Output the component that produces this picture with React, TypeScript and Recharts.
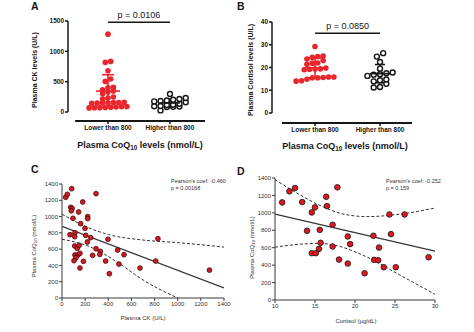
import React from 'react'
import { ComposedChart, Scatter, Line, XAxis, YAxis, ReferenceLine, ErrorBar } from 'recharts'

const FONT = '"Liberation Sans", Arial, Helvetica, sans-serif'
const RED = '#e8262c'
const INK = '#161616'
const AX = '#3a3a3a'

const groups = ['Lower than 800', 'Higher than 800']

// A: plasma CK (U/L) by CoQ10 group
const ckLow = [1283, 834, 818, 681, 543, 505, 406, 401, 368, 346, 330, 300, 247, 231, 215, 160, 158, 155, 152, 150, 147, 143, 90, 86, 82, 78, 75, 72, 70, 68]
const ckHigh = [296, 231, 214, 203, 190, 181, 175, 160, 137, 120, 115, 100, 95, 90, 85, 82, 27]
const ckMean = [345, 150]
const ckSd = [270, 60]

// B: plasma cortisol by CoQ10 group
const cortLow = [29.2, 25.0, 24.8, 24.5, 23.7, 23.1, 22.0, 21.9, 21.4, 19.8, 19.4, 19.3, 19.2, 19.0, 15.8, 15.8, 15.6, 15.5, 15.5, 14.8, 14.2, 14.0]
const cortHigh = [26.3, 24.8, 22.4, 19.5, 17.8, 17.5, 17.0, 16.8, 16.3, 14.7, 14.4, 13.9, 12.8, 11.4, 11.2]
const cortMean = [19.8, 17.3]
const cortSd = [4.4, 4.0]

// C: CK vs CoQ10
const ckCoq = [
  [32, 1237], [46, 1273], [84, 1342], [75, 1114], [88, 1100], [80, 1070], [144, 1056], [95, 979],
  [179, 1179], [294, 1281], [222, 999], [222, 975], [161, 913], [199, 856], [69, 777], [112, 802],
  [110, 753], [205, 770], [248, 741], [219, 688], [397, 721], [829, 728], [110, 639], [132, 610],
  [149, 647], [294, 605], [331, 573], [327, 535], [112, 528], [138, 528], [121, 495], [104, 458],
  [155, 549], [265, 524], [481, 589], [536, 532], [377, 454], [492, 417], [185, 450], [155, 368],
  [409, 298], [674, 368], [810, 454], [1274, 342],
]
const ckFit = [[0, 880], [1400, 125]]
const ckUpper = [[0, 1030], [200, 880], [400, 780], [700, 712], [1000, 680], [1400, 625]]
const ckLower = [[0, 722], [240, 630], [530, 390], [675, 245], [1000, 0]]

// D: cortisol vs CoQ10
const cortCoq = [
  [10.9, 1120], [11.8, 1247], [12.5, 1285], [13.4, 1124], [14.0, 794], [14.6, 1005], [15.0, 1063],
  [14.6, 537], [15.1, 537], [15.5, 587], [15.6, 805], [15.7, 656], [16.4, 1185], [16.5, 1078],
  [17.2, 863], [17.2, 614], [17.8, 1293], [18.0, 464], [19.1, 729], [19.1, 418], [19.4, 641],
  [21.2, 307], [22.3, 737], [22.4, 460], [22.9, 456], [23.0, 602], [23.6, 376], [24.3, 982],
  [24.5, 756], [25.1, 376], [26.2, 982], [29.2, 491],
]
const cortFit = [[10, 985], [30, 560]]
const cortUpper = [[10, 1381], [13, 1213], [15.5, 1090], [18.5, 987], [21.5, 957], [25.5, 984], [30, 1055]]
const cortLower = [[10, 606], [13, 639], [15.5, 650], [17.5, 628], [21.4, 497], [25.6, 287], [30, 65]]

const coqTicks = [0, 200, 400, 600, 800, 1000, 1200, 1400]
const ckTicks = [0, 200, 400, 600, 800, 1000, 1200, 1400]
const cortTicks = [10, 15, 20, 25, 30]

const toXY = (rows: number[][]) => rows.map(([x, y]) => ({ x, y }))

// prism-style scatter: close values share a row, rows are centred on the group
function rowLayout(values: number[], center: number, pxX: number, pxY: number, gap: number, rowPx: number) {
  const rows: number[][] = []
  for (const v of [...values].sort((a, b) => a - b)) {
    const row = rows[rows.length - 1]
    if (row && (v - row[0]) * pxY < rowPx) row.push(v)
    else rows.push([v])
  }
  return rows.flatMap((row) =>
    row.map((v, i) => ({ x: center + ((i - (row.length - 1) / 2) * gap) / pxX, y: v })),
  )
}

const Extra = ({ node }: { node: React.ReactNode }) => <g>{node}</g>

const letter = (x: number, y: number, t: string) => (
  <text x={x} y={y} fontSize={10.5} fontWeight={700} fontFamily={FONT} fill={INK}>{t}</text>
)

const vTitle = (x: number, y: number, size: number, bold: boolean, body: React.ReactNode) => (
  <text x={x} y={y} transform={`rotate(-90 ${x} ${y})`} textAnchor="middle" dominantBaseline="central"
    fontSize={size} fontWeight={bold ? 700 : 400} fontFamily={FONT} fill={bold ? INK : '#333'}>{body}</text>
)

const groupTitle = (x: number, y: number) => (
  <text x={x} y={y} textAnchor="middle" fontSize={9} fontWeight={700} fontFamily={FONT} fill={INK}>
    Plasma CoQ<tspan fontSize={6.3} dy={2}>10</tspan><tspan dy={-2}> levels (nmol/L)</tspan>
  </text>
)

const redDot = (p: any) => <circle cx={p.cx} cy={p.cy} r={2.8} fill={RED} />
const openDot = (p: any) => <circle cx={p.cx} cy={p.cy} r={2.5} fill="#fff" stroke={INK} strokeWidth={1.4} />
const meanBar = (color: string, half: number) => (p: any) =>
  <line x1={p.cx - half} x2={p.cx + half} y1={p.cy} y2={p.cy} stroke={color} strokeWidth={1.6} />

type DotPlotProps = {
  left: number
  width: number
  margin: { top: number; right: number; bottom: number; left: number }
  yWidth: number
  xDomain: [number, number]
  xLineFrom: number
  yDomain: [number, number]
  yTicks: number[]
  low: number[]
  high: number[]
  mean: number[]
  sd: number[]
  rowPx: number
  pAt: number
  pText: string
  extra: React.ReactNode
}

function DotPlot(p: DotPlotProps) {
  const H = 170
  const XH = 30
  const plotW = p.width - p.margin.left - p.yWidth - p.margin.right
  const plotH = H - p.margin.top - p.margin.bottom - XH
  const pxX = plotW / (p.xDomain[1] - p.xDomain[0])
  const pxY = plotH / (p.yDomain[1] - p.yDomain[0])
  const lowPts = rowLayout(p.low, 1, pxX, pxY, 5.4, p.rowPx)
  const highPts = rowLayout(p.high, 2, pxX, pxY, 6.3, p.rowPx)
  const tickFont = { fontSize: 6.5, fontWeight: 700, fill: INK, fontFamily: FONT }
  const yTop = p.yTicks[p.yTicks.length - 1]
  return (
    <div style={{ position: 'absolute', left: p.left, top: 0 }}>
      <ComposedChart width={p.width} height={H} margin={p.margin}>
        <XAxis type="number" dataKey="x" domain={p.xDomain} ticks={[1, 2]} interval={0}
          tickFormatter={(v) => groups[v - 1]} axisLine={false} tickSize={3} tickMargin={1} height={XH}
          tick={tickFont} tickLine={{ stroke: INK, strokeWidth: 1.5 }} allowDataOverflow />
        <YAxis type="number" dataKey="y" domain={p.yDomain} ticks={p.yTicks} interval={0} width={p.yWidth}
          axisLine={false} tickSize={3} tickMargin={1} tick={tickFont} tickLine={{ stroke: INK, strokeWidth: 1.5 }}
          allowDataOverflow label={<Extra node={p.extra} />} />
        <ReferenceLine segment={[{ x: p.xDomain[0], y: 0 }, { x: p.xDomain[0], y: yTop }]} stroke={INK} strokeWidth={1.5} />
        <ReferenceLine segment={[{ x: p.xLineFrom, y: p.yDomain[0] }, { x: p.xDomain[1], y: p.yDomain[0] }]} stroke={INK} strokeWidth={2} />
        <ReferenceLine segment={[{ x: 1, y: p.pAt }, { x: 2, y: p.pAt }]} stroke={INK} strokeWidth={1.5}
          label={{ value: p.pText, position: 'top', offset: 4, fontSize: 9, fill: INK, fontFamily: FONT }} />
        <Scatter data={lowPts} shape={redDot} isAnimationActive={false} />
        <Scatter data={highPts} shape={openDot} isAnimationActive={false} />
        <Scatter data={[{ x: 1, y: p.mean[0], sd: p.sd[0] }]} shape={meanBar(RED, 12)} isAnimationActive={false}>
          <ErrorBar dataKey="sd" direction="y" width={6} stroke={RED} strokeWidth={1.6} isAnimationActive={false} />
        </Scatter>
        <Scatter data={[{ x: 2, y: p.mean[1], sd: p.sd[1] }]} shape={meanBar(INK, 10)} isAnimationActive={false}>
          <ErrorBar dataKey="sd" direction="y" width={5} stroke={INK} strokeWidth={1.6} isAnimationActive={false} />
        </Scatter>
      </ComposedChart>
    </div>
  )
}

type CorrProps = {
  left: number
  width: number
  margin: { top: number; right: number; bottom: number; left: number }
  yWidth: number
  xDomain: [number, number]
  xTicks: number[]
  points: number[][]
  fit: number[][]
  upper: number[][]
  lower: number[][]
  dot: (p: any) => React.ReactElement
  extra: React.ReactNode
}

// panels C and D start at y=155 so the panel letter has room above the plot
function Correlation(p: CorrProps) {
  const small = { fontSize: 6, fill: '#333', fontFamily: FONT }
  return (
    <div style={{ position: 'absolute', left: p.left, top: 155 }}>
      <ComposedChart width={p.width} height={177} margin={p.margin}>
        <XAxis type="number" dataKey="x" domain={p.xDomain} ticks={p.xTicks} interval={0} tickSize={3} tickMargin={1}
          height={20} axisLine={{ stroke: AX }} tickLine={{ stroke: AX }} tick={small} allowDataOverflow />
        <YAxis type="number" dataKey="y" domain={[0, 1400]} ticks={coqTicks} interval={0} width={p.yWidth} tickSize={3}
          tickMargin={1} axisLine={{ stroke: AX }} tickLine={{ stroke: AX }} tick={small} allowDataOverflow
          label={<Extra node={p.extra} />} />
        <Line data={toXY(p.upper)} dataKey="y" type="monotone" stroke="#333" strokeWidth={1} strokeDasharray="3 2" dot={false} isAnimationActive={false} />
        <Line data={toXY(p.lower)} dataKey="y" type="monotone" stroke="#333" strokeWidth={1} strokeDasharray="3 2" dot={false} isAnimationActive={false} />
        <Line data={toXY(p.fit)} dataKey="y" type="linear" stroke="#333" strokeWidth={1.3} dot={false} isAnimationActive={false} />
        <Scatter data={toXY(p.points)} shape={p.dot} isAnimationActive={false} />
      </ComposedChart>
    </div>
  )
}

const coqSub = (
  <>Plasma CoQ<tspan fontSize={4.3} dy={1.5}>10</tspan><tspan dy={-1.5}> (nmol/L)</tspan></>
)

const smallText = (x: number, y: number, t: string, anchor: 'start' | 'middle' = 'start', size = 5.5) => (
  <text x={x} y={y} textAnchor={anchor} fontSize={size} fontFamily={FONT} fill="#333">{t}</text>
)

export default function App() {
  return (
    <div style={{ position: 'fixed', left: 0, top: 0, width: 474, height: 332, background: '#fff', overflow: 'hidden' }}>
      <DotPlot
        left={0}
        width={237}
        margin={{ top: 21, right: 32, bottom: 19, left: 0 }}
        yWidth={68}
        xDomain={[0.355, 2.565]}
        xLineFrom={0.47}
        yDomain={[-148, 1500]}
        yTicks={[0, 500, 1000, 1500]}
        low={ckLow}
        high={ckHigh}
        mean={ckMean}
        sd={ckSd}
        rowPx={4}
        pAt={1480}
        pText="p = 0.0106"
        extra={<>
          {letter(31, 10, 'A')}
          {vTitle(34, 70, 7, true, 'Plasma CK levels (U/L)')}
          {groupTitle(140, 148)}
        </>}
      />
      <DotPlot
        left={228}
        width={246}
        margin={{ top: 22, right: 62, bottom: 17, left: 0 }}
        yWidth={44}
        xDomain={[0.338, 2.492]}
        xLineFrom={0.492}
        yDomain={[-4.4, 40]}
        yTicks={[0, 10, 20, 30, 40]}
        low={cortLow}
        high={cortHigh}
        mean={cortMean}
        sd={cortSd}
        rowPx={4.5}
        pAt={35}
        pText="p = 0.0850"
        extra={<>
          {letter(9, 10, 'B')}
          {vTitle(22, 70, 7, true, 'Plasma Cortisol levels (U/L)')}
          {groupTitle(117, 149)}
        </>}
      />
      <Correlation
        left={0}
        width={237}
        margin={{ top: 29, right: 13, bottom: 14, left: 0 }}
        yWidth={62}
        xDomain={[0, 1400]}
        xTicks={ckTicks}
        points={ckCoq}
        fit={ckFit}
        upper={ckUpper}
        lower={ckLower}
        dot={(d: any) => <circle cx={d.cx} cy={d.cy} r={2.4} fill="#cf1b24" stroke="#4a0808" strokeWidth={0.8} />}
        extra={<>
          {letter(31, 18, 'C')}
          {vTitle(33.5, 91, 6, false, coqSub)}
          {smallText(143, 165, 'Plasma CK (U/L)', 'middle', 6)}
          {smallText(171, 28, "Pearson's coef: -0.460")}
          {smallText(171, 35, 'p = 0.00168')}
        </>}
      />
      <Correlation
        left={230}
        width={244}
        margin={{ top: 23, right: 39, bottom: 12, left: 0 }}
        yWidth={45}
        xDomain={[10, 30]}
        xTicks={cortTicks}
        points={cortCoq}
        fit={cortFit}
        upper={cortUpper}
        lower={cortLower}
        dot={(d: any) => <circle cx={d.cx} cy={d.cy} r={2.8} fill="#e5141d" stroke="#222" strokeWidth={0.9} />}
        extra={<>
          {letter(7, 20, 'D')}
          {vTitle(21.5, 92.5, 6, false, coqSub)}
          {smallText(126, 168, 'Cortisol (µg/dL)', 'middle', 6)}
          {smallText(156, 28, "Pearson's coef: -0.252")}
          {smallText(156, 35, 'p = 0.159')}
        </>}
      />
    </div>
  )
}
